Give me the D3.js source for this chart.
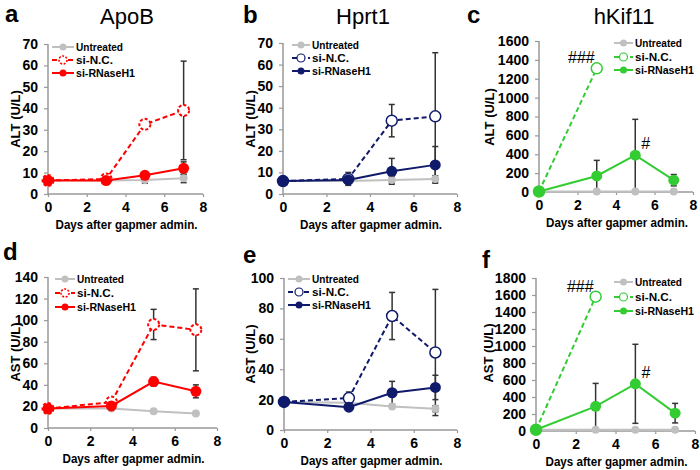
<!DOCTYPE html>
<html><head><meta charset="utf-8">
<script src="https://cdn.jsdelivr.net/npm/d3@7"></script>
<style>body{margin:0;background:#fff}</style>
</head><body>
<script>
// ---------- DATA ----------
const days = [0, 3, 5, 7];
const seriesNames = ["Untreated", "si-N.C.", "si-RNaseH1"];
const xTicks = [0, 2, 4, 6, 8];

// a: ALT ApoB
const aUnt = [6.5, 6.3, 6.5, 7.3], aUntErr = [0.5, 0.5, 1.5, 2];
const aNC = [6.3, 7, 32.5, 39], aNCErr = [0.5, 1, 1.5, 23];
const aRH = [6.3, 6.3, 8.7, 12], aRHErr = [0.5, 0.5, 1, 3];
// b: ALT Hprt1
const bUnt = [6, 6, 6.5, 7], bUntErr = [0.5, 1.5, 1.5, 1.5];
const bNC = [6, 7, 34, 36], bNCErr = [0.5, 3, 7.5, 29.5];
const bRH = [6, 6.5, 10.5, 13.5], bRHErr = [0.5, 1, 6, 8.5];
// c: ALT hKif11
const cUnt = [5, 5, 5, 5], cUntErr = [0, 0, 0, 0];
const cNC = [5, 1310, null, null], cNCErr = [0, 0, null, null];
const cRH = [5, 170, 390, 125], cRHErr = [0, 165, 380, 60];
// d: AST ApoB
const dUnt = [18, 18, 15.5, 13.5], dUntErr = [0.5, 1, 1, 1];
const dNC = [18, 24, 96, 91], dNCErr = [0.5, 2, 14, 38];
const dRH = [18, 20.5, 43, 34], dRHErr = [0.5, 1, 4, 6];
// e: AST Hprt1
const eUnt = [18.5, 18, 15.5, 14], eUntErr = [0.5, 1, 1, 2];
const eNC = [18.5, 21, 75, 51], eNCErr = [0.5, 4, 15.5, 41.5];
const eRH = [18.5, 15, 24.5, 28], eRHErr = [0.5, 1.5, 7.5, 8];
// f: AST hKif11
const fUnt = [15, 15, 15, 15], fUntErr = [0, 0, 0, 0];
const fNC = [15, 1580, null, null], fNCErr = [0, 0, null, null];
const fRH = [15, 290, 555, 210], fRHErr = [0, 270, 465, 115];

const yTicksA = [0, 10, 20, 30, 40, 50, 60, 70];
const yTicksC = [0, 200, 400, 600, 800, 1000, 1200, 1400, 1600];
const yTicksD = [0, 20, 40, 60, 80, 100, 120, 140];
const yTicksE = [0, 20, 40, 60, 80, 100];
const yTicksF = [0, 200, 400, 600, 800, 1000, 1200, 1400, 1600, 1800];

const panelLetters = ["a", "b", "c", "d", "e", "f"];
const panelTitles = ["ApoB", "Hprt1", "hKif11", "", "", ""];
const yLabels = ["ALT (U/L)", "ALT (U/L)", "ALT (U/L)", "AST (U/L)", "AST (U/L)", "AST (U/L)"];

// ---------- LAYOUT / STYLE ----------
const RED = "#ff0000", NAVY = "#101a6b", GREEN = "#33cc33", GREY = "#c0c0c0";
const FONT = "'Liberation Sans', Arial, sans-serif";
const legWidths = [47, 37, 59];

const panels = [
  {x0: 48, x1: 203, yt: 44, yb: 194, ticks: yTicksA, col: RED, dashMarker: true,
   data: [aUnt, aNC, aRH], err: [aUntErr, aNCErr, aRHErr],
   letter: [5, 22], title: [127, 24], ylab: [15, 119],
   leg: {x0: 52, x1: 74, tx: 76, ys: [47, 60, 73]}},
  {x0: 283, x1: 457, yt: 43, yb: 194, ticks: yTicksA, col: NAVY,
   data: [bUnt, bNC, bRH], err: [bUntErr, bNCErr, bRHErr],
   letter: [243, 23], title: [363, 24], ylab: [250, 119],
   leg: {x0: 292, x1: 310, tx: 312, ys: [45, 58, 71]}},
  {x0: 539, x1: 693, yt: 41, yb: 192, ticks: yTicksC, col: GREEN,
   data: [cUnt, cNC, cRH], err: [cUntErr, cNCErr, cRHErr],
   letter: [467, 23], title: [624, 24], ylab: [489, 117],
   leg: {x0: 614, x1: 633, tx: 635, ys: [43, 57, 70]},
   ann: true},
  {x0: 48, x1: 217, yt: 277, yb: 428, ticks: yTicksD, col: RED, dashMarker: true,
   data: [dUnt, dNC, dRH], err: [dUntErr, dNCErr, dRHErr],
   letter: [3, 260], ylab: [15, 352],
   leg: {x0: 55, x1: 75, tx: 77, ys: [279, 293, 307]}},
  {x0: 284, x1: 457, yt: 278, yb: 430, ticks: yTicksE, col: NAVY,
   data: [eUnt, eNC, eRH], err: [eUntErr, eNCErr, eRHErr],
   letter: [243, 263], ylab: [250, 354],
   leg: {x0: 288, x1: 310, tx: 312, ys: [279, 292, 305]}},
  {x0: 536, x1: 695, yt: 278, yb: 431, ticks: yTicksF, col: GREEN,
   data: [fUnt, fNC, fRH], err: [fUntErr, fNCErr, fRHErr],
   letter: [482, 268], ylab: [488, 353],
   leg: {x0: 614, x1: 633, tx: 635, ys: [282, 297, 311]},
   ann: true}
];

const svg = d3.select("body").append("svg")
  .attr("width", 700).attr("height", 470)
  .style("font-family", FONT);

panels.forEach((p, i) => {
  const g = svg.append("g");
  const x = d3.scaleLinear().domain([0, 8]).range([p.x0, p.x1]);
  const yMax = p.ticks[p.ticks.length - 1];
  const y = d3.scaleLinear().domain([0, yMax]).range([p.yb, p.yt]);

  // axes
  const yAx = g.append("g").attr("transform", `translate(${p.x0},0)`)
    .call(d3.axisLeft(y).tickValues(p.ticks).tickFormat(d3.format("d")).tickSize(4).tickPadding(6));
  const xAx = g.append("g").attr("transform", `translate(0,${p.yb})`)
    .call(d3.axisBottom(x).tickValues(xTicks).tickFormat(d3.format("d")).tickSize(3).tickPadding(5));
  [yAx, xAx].forEach(a => {
    a.select(".domain").attr("stroke", "#999").attr("stroke-width", 1.5);
    a.selectAll(".tick line").attr("stroke", "#999").attr("stroke-width", 1.2);
    a.selectAll(".tick text").attr("fill", "#000")
      .style("font-size", "14px").style("font-weight", "bold").style("font-family", FONT);
  });
  xAx.select(".domain").attr("d", `M${p.x0},0H${p.x1}`);
  yAx.select(".domain").attr("d", `M0,${p.yt}V${p.yb}`);

  // letter & title
  g.append("text").attr("x", p.letter[0]).attr("y", p.letter[1])
    .text(panelLetters[i]).style("font-size", "24px").style("font-weight", "bold");
  if (panelTitles[i]) {
    g.append("text").attr("x", p.title[0]).attr("y", p.title[1]).attr("text-anchor", "middle")
      .text(panelTitles[i]).style("font-size", "22px");
  }
  // axis labels
  g.append("text").attr("x", (p.x0 + p.x1) / 2 + 1).attr("y", p.yb + 35).attr("text-anchor", "middle")
    .attr("textLength", 142).attr("lengthAdjust", "spacingAndGlyphs")
    .text("Days after gapmer admin.").style("font-size", "12.5px").style("font-weight", "bold");
  g.append("text").attr("transform", `translate(${p.ylab[0]},${p.ylab[1]}) rotate(-90)`)
    .attr("text-anchor", "middle").attr("dy", "0.35em")
    .text(yLabels[i]).style("font-size", "13px").style("font-weight", "bold");

  const colors = [GREY, p.col, p.col];
  const dashes = [null, "5,3", null];

  // error bars
  p.data.forEach((vals, s) => {
    vals.forEach((v, k) => {
      const e = p.err[s][k];
      if (v == null || !e) return;
      const xx = x(days[k]);
      const lo = Math.max(0, v - e), hi = v + e;
      g.append("line").attr("x1", xx).attr("x2", xx).attr("y1", y(lo)).attr("y2", y(hi))
        .attr("stroke", "#333").attr("stroke-width", 1.5);
      [lo, hi].forEach(b => {
        if (b <= 0) return;
        g.append("line").attr("x1", xx - 3).attr("x2", xx + 3).attr("y1", y(b)).attr("y2", y(b))
          .attr("stroke", "#333").attr("stroke-width", 1.5);
      });
    });
  });

  // lines & markers
  p.data.forEach((vals, s) => {
    const pts = days.map((d, k) => [d, vals[k]]).filter(d => d[1] != null);
    g.append("path").datum(pts)
      .attr("d", d3.line().x(d => x(d[0])).y(d => y(d[1])))
      .attr("fill", "none").attr("stroke", colors[s]).attr("stroke-width", 2)
      .attr("stroke-dasharray", dashes[s]);
    pts.forEach(d => {
      const c = g.append("circle").attr("cx", x(d[0])).attr("cy", y(d[1]));
      if (s === 0) c.attr("r", 4).attr("fill", GREY);
      else if (s === 1) {
        c.attr("r", 5.5).attr("fill", "#fff").attr("stroke", colors[s]).attr("stroke-width", 1.5);
        if (p.dashMarker) c.attr("stroke-dasharray", "3,2").attr("stroke-width", 2);
      } else c.attr("r", 5.5).attr("fill", colors[s]);
    });
  });

  // legend
  seriesNames.forEach((nm, s) => {
    const ly = p.leg.ys[s];
    g.append("line").attr("x1", p.leg.x0).attr("x2", p.leg.x1).attr("y1", ly).attr("y2", ly)
      .attr("stroke", colors[s]).attr("stroke-width", 2).attr("stroke-dasharray", dashes[s]);
    const mx = (p.leg.x0 + p.leg.x1) / 2;
    const c = g.append("circle").attr("cx", mx).attr("cy", ly);
    if (s === 0) c.attr("r", 3.5).attr("fill", GREY);
    else if (s === 1) {
      c.attr("r", 4).attr("fill", "#fff").attr("stroke", colors[s]).attr("stroke-width", 1.2);
      if (p.dashMarker) c.attr("stroke-dasharray", "2,1.5").attr("stroke-width", 1.6);
    } else c.attr("r", 3.5).attr("fill", colors[s]);
    g.append("text").attr("x", p.leg.tx).attr("y", ly).attr("dy", "0.36em")
      .attr("textLength", legWidths[s]).attr("lengthAdjust", "spacingAndGlyphs")
      .text(nm).style("font-size", "11.5px").style("font-weight", "bold");
  });

  // significance marks
  if (p.ann) {
    const nc = p.data[1], rh = p.data[2];
    g.append("text").attr("x", x(3) - 2).attr("y", y(nc[1]) - 5).attr("text-anchor", "end")
      .text("###").style("font-size", "16px");
    g.append("text").attr("x", x(5) + 6).attr("y", y(rh[2]) - 6)
      .text("#").style("font-size", "16px");
  }
});
</script>
</body></html>
